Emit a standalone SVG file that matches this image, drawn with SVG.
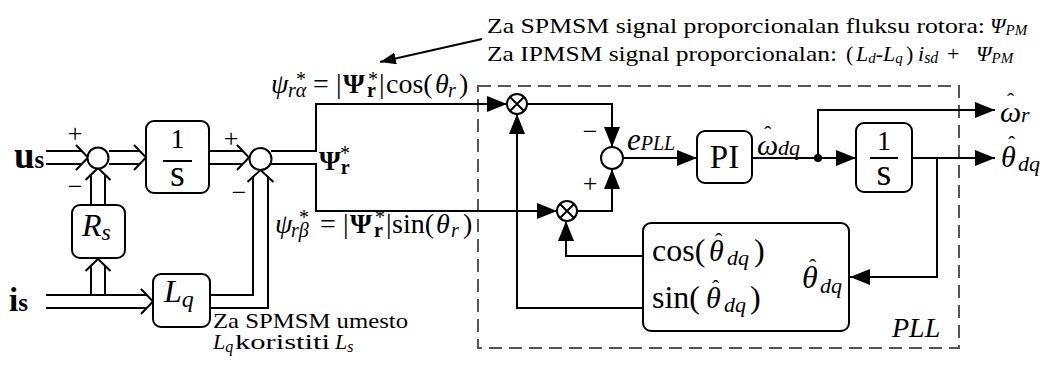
<svg xmlns="http://www.w3.org/2000/svg" width="1046" height="365" viewBox="0 0 1046 365">
<style>
.ln{stroke:#000;stroke-width:2;fill:none}
.bx{fill:#fff;stroke:#000;stroke-width:2}
.ci{fill:#fff;stroke:#000;stroke-width:2}
.dash{stroke:#555;stroke-width:2;fill:none;stroke-dasharray:13 7}
.t{font-family:"Liberation Serif","DejaVu Serif",serif;fill:#000}
.i{font-style:italic}
.n{font-style:normal}
.b{font-weight:bold}
</style>
<defs>
<marker id="ar" markerUnits="userSpaceOnUse" markerWidth="20" markerHeight="16" refX="20" refY="8" orient="auto">
<path d="M0,0 L20,8 L0,16 Z" fill="#000"/>
</marker>
<marker id="ar2" markerUnits="userSpaceOnUse" markerWidth="16" markerHeight="12" refX="16" refY="6" orient="auto">
<path d="M0,0 L16,6 L0,12 Z" fill="#000"/>
</marker>
</defs>
<rect class="dash" x="478" y="86" width="481" height="262"/>
<g id="connectors">
<path class="ln" d="M46,151 H82 M46,164 H82 M76,145 L88,157.5 L76,170"/>
<path class="ln" d="M109,151 H140 M109,164 H140 M134,145 L146,157.5 L134,170"/>
<path class="ln" d="M209,151 H243 M209,164 H243 M237,145 L249,157.5 L237,170"/>
<path class="ln" d="M46,295 H147 M46,308 H147 M141,289 L153,301.5 L141,314"/>
<path class="ln" d="M91,295 V265 M105,295 V265 M85.5,271 L98,259 L110.5,271"/>
<path class="ln" d="M91,205 V174 M105,205 V174 M85.5,180 L98,168 L110.5,180"/>
<path class="ln" d="M210,295 H253 V176 M210,308 H268 V176 M247.5,182 L260.5,170 L273.5,182"/>
<path class="ln" d="M271,151 H316 V104 H507" marker-end="url(#ar)"/>
<path class="ln" d="M271,164 H316 V211 H557" marker-end="url(#ar)"/>
<path class="ln" d="M527,104 H612 V147" marker-end="url(#ar)"/>
<path class="ln" d="M577,211 H612 V169" marker-end="url(#ar)"/>
<path class="ln" d="M623,158 H697" marker-end="url(#ar)"/>
<path class="ln" d="M752,158 H856" marker-end="url(#ar)"/>
<path class="ln" d="M818,158 V110 H995" marker-end="url(#ar)"/>
<path class="ln" d="M912,158 H995" marker-end="url(#ar)"/>
<path class="ln" d="M937,158 V277 H850" marker-end="url(#ar)"/>
<path class="ln" d="M643,256 H566 V221" marker-end="url(#ar)"/>
<path class="ln" d="M643,308 H517 V114" marker-end="url(#ar)"/>
<circle cx="818" cy="158" r="4" fill="#000"/>
<path class="ln" d="M482,39 L380,62" marker-end="url(#ar2)"/>
</g>
<g id="sum1"><circle class="ci" cx="98" cy="158" r="10.5"/></g>
<g id="sum2"><circle class="ci" cx="260.5" cy="159" r="11"/></g>
<g id="sum3"><circle class="ci" cx="612" cy="158" r="11"/></g>
<g id="mul1"><circle class="ci" cx="517" cy="104" r="10"/><path class="ln" d="M510,97 L524,111 M524,97 L510,111" stroke-width="1.6"/></g>
<g id="mul2"><circle class="ci" cx="567" cy="211" r="10"/><path class="ln" d="M560,204 L574,218 M574,204 L560,218" stroke-width="1.6"/></g>
<g id="int1">
<rect class="bx" x="146" y="121" width="63" height="72" rx="8"/>
<text class="t" x="177.5" y="148" font-size="28" text-anchor="middle">1</text>
<line class="ln" x1="163" y1="161" x2="192" y2="161"/>
<text class="t" x="177.5" y="186" font-size="38" text-anchor="middle">s</text>
</g>
<g id="rs">
<rect class="bx" x="72" y="205" width="53" height="53" rx="8"/>
<text class="t i" x="82" y="236" font-size="32">R<tspan font-size="24" dy="4">s</tspan></text>
</g>
<g id="lq">
<rect class="bx" x="153" y="274" width="57" height="53" rx="8"/>
<text class="t i" x="164" y="302" font-size="32">L<tspan font-size="24" dy="5">q</tspan></text>
</g>
<g id="pi">
<rect class="bx" x="697" y="131" width="55" height="52" rx="8"/>
<text class="t" x="724.5" y="168" font-size="33" text-anchor="middle">PI</text>
</g>
<g id="int2">
<rect class="bx" x="856" y="123" width="56" height="69" rx="8"/>
<text class="t" x="884" y="150" font-size="28" text-anchor="middle">1</text>
<line class="ln" x1="870" y1="158" x2="898" y2="158"/>
<text class="t" x="884" y="185" font-size="38" text-anchor="middle">s</text>
</g>
<g id="trig">
<rect class="bx" x="643" y="223" width="206" height="108" rx="8"/>
<text class="t" x="652" y="261" font-size="32">cos(<tspan class="i" x="709" font-size="30">θ</tspan><tspan x="715" y="248" font-size="22">ˆ</tspan><tspan class="i" x="727" y="265" font-size="22">dq</tspan><tspan x="754" y="261">)</tspan></text>
<text class="t" x="652" y="308" font-size="32">sin(<tspan class="i" x="706" font-size="30">θ</tspan><tspan x="712" y="295" font-size="22">ˆ</tspan><tspan class="i" x="724" y="312" font-size="22">dq</tspan><tspan x="750" y="308">)</tspan></text>
<text class="t i" x="802" y="288" font-size="32">θ<tspan class="n" x="809" y="274" font-size="22">ˆ</tspan><tspan x="820" y="293" font-size="22">dq</tspan></text>
</g>
<g id="labels">
<text class="t b" x="14" y="168" font-size="37">u<tspan font-size="25">s</tspan></text>
<text class="t b" x="9" y="311" font-size="33">i<tspan font-size="25">s</tspan></text>
<text class="t" x="75" y="142" font-size="26" text-anchor="middle">+</text>
<text class="t" x="75" y="195" font-size="26" text-anchor="middle">−</text>
<text class="t" x="231" y="147" font-size="26" text-anchor="middle">+</text>
<text class="t" x="239" y="201" font-size="26" text-anchor="middle">−</text>
<text class="t" x="590" y="140" font-size="26" text-anchor="middle">−</text>
<text class="t" x="590" y="192" font-size="26" text-anchor="middle">+</text>
<text class="t b" x="319" y="170" font-size="28">Ψ<tspan font-size="20" dy="4">r</tspan><tspan class="n" font-weight="normal" font-size="20" x="340" y="160">*</tspan></text>
<text class="t" y="93" font-size="28"><tspan class="i" x="271">ψ</tspan><tspan class="i" x="288" dy="4" font-size="20">rα</tspan><tspan x="296" y="86" font-size="20">*</tspan><tspan x="313" y="93">=</tspan><tspan x="336">|</tspan><tspan class="b" x="343">Ψ</tspan><tspan class="b" x="367" dy="4" font-size="20">r</tspan><tspan x="368" y="86" font-size="20">*</tspan><tspan x="379" y="93">|</tspan><tspan x="386">cos(</tspan><tspan class="i" x="435">θ</tspan><tspan class="i" x="448" dy="4" font-size="20">r</tspan><tspan x="459" dy="-4">)</tspan></text>
<text class="t" y="233" font-size="28"><tspan class="i" x="275">ψ</tspan><tspan class="i" x="291" dy="4" font-size="20">rβ</tspan><tspan x="299" y="224" font-size="20">*</tspan><tspan x="320" y="233">=</tspan><tspan x="343">|</tspan><tspan class="b" x="350">Ψ</tspan><tspan class="b" x="374" dy="4" font-size="20">r</tspan><tspan x="375" y="224" font-size="20">*</tspan><tspan x="386" y="233">|</tspan><tspan x="392">sin(</tspan><tspan class="i" x="436">θ</tspan><tspan class="i" x="451" dy="4" font-size="20">r</tspan><tspan x="463" dy="-4">)</tspan></text>
<text class="t i" x="627" y="150" font-size="31">e<tspan font-size="20">PLL</tspan></text>
<text class="t i" x="757" y="155" font-size="30">ω<tspan class="n" x="764" y="141" font-size="22">ˆ</tspan><tspan x="778" y="155" font-size="22">dq</tspan></text>
<text class="t i" x="1000" y="122" font-size="30">ω<tspan class="n" x="1007" y="108" font-size="22">ˆ</tspan><tspan x="1021" y="122" font-size="22">r</tspan></text>
<text class="t i" x="1001" y="167" font-size="30">θ<tspan class="n" x="1008" y="151" font-size="22">ˆ</tspan><tspan x="1018" y="171" font-size="22">dq</tspan></text>
<text class="t i" x="892" y="337" font-size="28">PLL</text>
<text class="t" x="213" y="328" font-size="21" textLength="195" lengthAdjust="spacingAndGlyphs">Za SPMSM umesto</text>
<text class="t" y="349" font-size="22"><tspan class="i" x="213">L</tspan><tspan class="i" font-size="16" dy="3">q</tspan><tspan x="235" dy="-3" textLength="95" lengthAdjust="spacingAndGlyphs">koristiti</tspan><tspan class="i" x="335">L</tspan><tspan class="i" font-size="16" dy="3">s</tspan></text>
<text class="t" x="487" y="33" font-size="21" textLength="498" lengthAdjust="spacingAndGlyphs">Za SPMSM signal proporcionalan  fluksu rotora:</text>
<text class="t i" x="990" y="33" font-size="22">Ψ<tspan font-size="15" dy="2">PM</tspan></text>
<text class="t" x="487" y="61" font-size="21" textLength="350" lengthAdjust="spacingAndGlyphs">Za IPMSM signal proporcionalan:</text>
<text class="t" y="61" font-size="22"><tspan x="846">(</tspan><tspan class="i" x="856">L</tspan><tspan class="i" font-size="15" dy="2">d</tspan><tspan dy="-2">-</tspan><tspan class="i">L</tspan><tspan class="i" font-size="15" dy="2">q</tspan><tspan x="906" dy="-2">)</tspan><tspan class="i" x="918">i</tspan><tspan class="i" font-size="16" dy="2">sd</tspan><tspan dy="-2" x="947">+</tspan><tspan class="i" x="976">Ψ</tspan><tspan class="i" font-size="15" dy="2">PM</tspan></text>
</g>
</svg>
